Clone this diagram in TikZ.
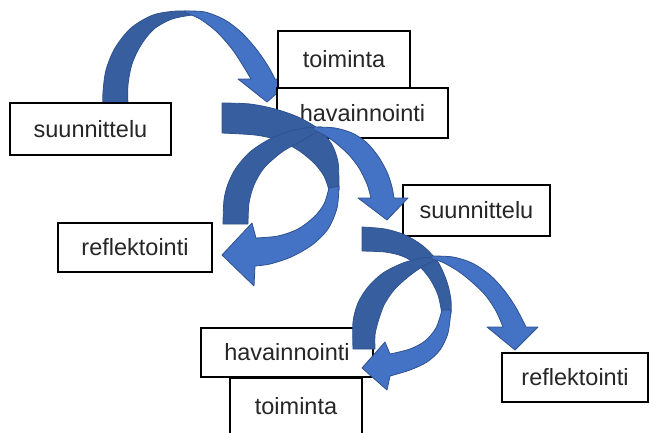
\documentclass[tikz,border=0pt]{standalone}
\usepackage{fontspec}
\setmainfont{Liberation Sans}
\usepackage{tikz}
\usetikzlibrary{positioning,calc}

\definecolor{arrlight}{HTML}{4472C4}
\definecolor{arrdark}{HTML}{375E9F}
\definecolor{arredge}{HTML}{2F528F}
\definecolor{boxtext}{HTML}{262626}

\begin{document}
\begin{tikzpicture}
[   x=1pt, y=-1pt,
    box/.style={draw=black, fill=white, line width=1.6pt, inner sep=0pt, text=boxtext, font=\fontsize{23.5}{28}\selectfont},
    back/.style={fill=arrdark, draw=arredge, line width=0.8pt, line join=round},
    front/.style={fill=arrlight, draw=arredge, line width=0.8pt, line join=round}, ]
    \useasboundingbox (0,0) rectangle (649,432);

    % first arch, under the boxes
    \filldraw[back] plot[smooth] coordinates {(103,106) (103,92) (106,70) (115,48) (131,28) (153,15) (177,11) (196,12)}
        -- plot[smooth] coordinates {(192,15) (172,19) (154,29) (141,45) (132,64) (128,85) (128,106)} -- cycle;
    \filldraw[front] plot[smooth] coordinates {(184,11) (205,12) (225,20) (242,33) (257,50) (268,66) (275,79)}
        -- (292,80) -- (267,102) -- (238,79)
        -- plot[smooth] coordinates {(251,79) (242,64) (232,49) (217,32) (200,19) (184,12)} -- cycle;

    \foreach \name/\x/\y/\w/\h/\txt in {plan-1/90.5/129/161/52/suunnittelu, act-1/344/59.5/132/57/toiminta,
        obs-1/362.5/113/171/50/havainnointi, refl-1/135/247.5/154/49/reflektointi,
        plan-2/476.5/210.5/147/51/suunnittelu, obs-2/287/352.5/172/49/havainnointi,
        act-2/296/406/132/56/toiminta, refl-2/575/377.5/146/49/reflektointi}
    {
        \node[box, minimum width=\w pt, minimum height=\h pt] (\name) at (\x,\y) {\txt};
    }

    % middle pair
    \filldraw[back] plot[smooth] coordinates {(222,103) (250,104) (275,109) (298,117) (317,128) (331,143) (338,162) (339,190)}
        -- plot[smooth] coordinates {(329,190) (324,176) (314,163) (298,150) (278,140) (255,135) (222,133)} -- cycle;
    \filldraw[back] plot[smooth] coordinates {(223,224) (224,200) (228,184) (236,168) (250,152) (268,140) (287,132) (305,128) (322,127)}
        -- plot[smooth] coordinates {(320,130) (303,140) (282,152) (264,168) (254,185) (249,203) (248,224)} -- cycle;
    \filldraw[front] plot[smooth] coordinates {(314,127) (335,128) (352,133) (366,142) (378,156) (387,172) (392,187) (394,198)}
        -- (408,198) -- (387,220) -- (358,198)
        -- plot[smooth] coordinates {(371,198) (367,184) (359,168) (349,155) (337,144) (326,136) (314,130)} -- cycle;
    \filldraw[front] plot[smooth] coordinates {(339,186) (337,208) (328,229) (312,245) (291,257) (270,264) (255,266)}
        -- (254,286) -- (222,255) -- (252,223)
        -- plot[smooth] coordinates {(256,238) (278,236) (298,229) (314,217) (324,204) (329,188)} -- cycle;

    % lower pair
    \filldraw[back] plot[smooth] coordinates {(362,227) (385,229) (405,235) (423,246) (438,262) (447,282) (451,300) (451,314)}
        -- plot[smooth] coordinates {(442,314) (438,295) (430,279) (418,265) (402,256) (385,252) (362,251)} -- cycle;
    \filldraw[back] plot[smooth] coordinates {(353,349) (353,322) (358,303) (368,287) (383,273) (403,263) (422,258) (440,257)}
        -- plot[smooth] coordinates {(438,260) (425,265) (408,277) (394,290) (384,305) (378,322) (375,335) (375,349)} -- cycle;
    \filldraw[front] plot[smooth] coordinates {(432,256) (453,257) (472,263) (490,275) (504,290) (515,306) (522,319) (526,327)}
        -- (538,327) -- (515,350) -- (487,327)
        -- plot[smooth] coordinates {(503,327) (496,311) (486,296) (473,283) (458,271) (442,262) (432,259)} -- cycle;
    \filldraw[front] plot[smooth] coordinates {(451,310) (448,333) (440,350) (427,362) (410,370) (390,376)}
        -- (387,390) -- (362,368) -- (385,342)
        -- plot[smooth] coordinates {(390,354) (410,349) (425,341) (436,328) (442,310)} -- cycle;

\end{tikzpicture}
\end{document}
